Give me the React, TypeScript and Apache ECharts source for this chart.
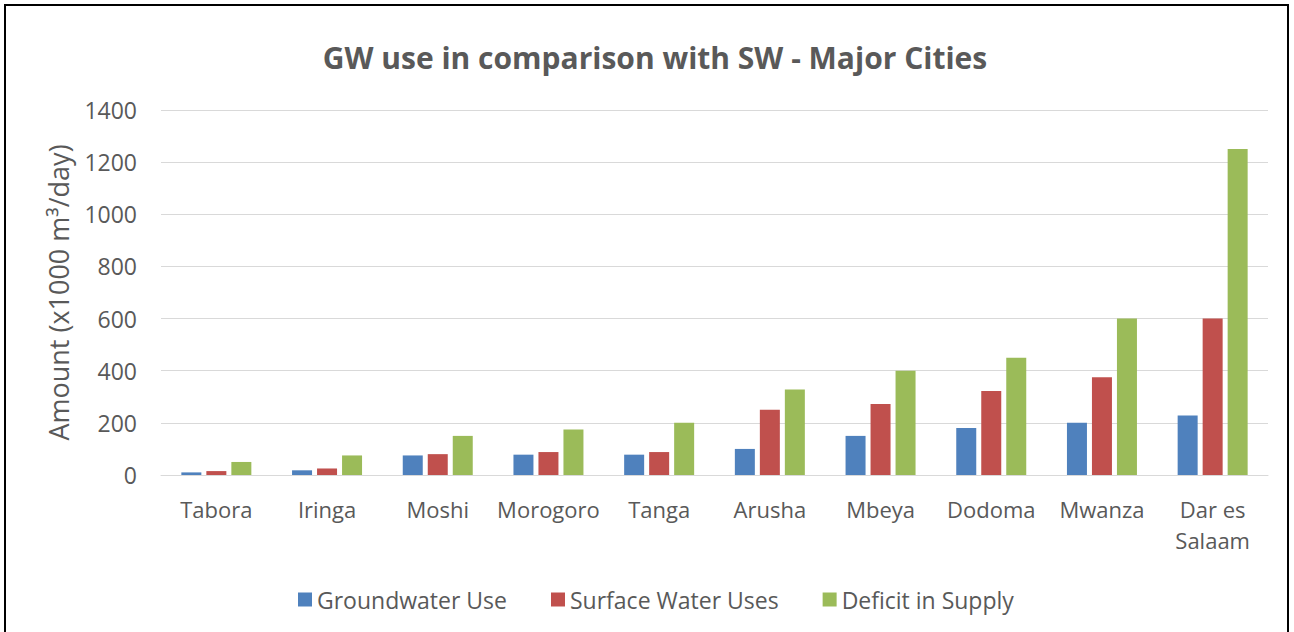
import React, { useEffect, useRef } from "react";
import * as echarts from "echarts";

const cities = ["Tabora", "Iringa", "Moshi", "Morogoro", "Tanga", "Arusha", "Mbeya", "Dodoma", "Mwanza", "Dar es\nSalaam"];
const groundwater = [10, 18, 75, 78, 78, 100, 150, 180, 200, 228];
const surfaceWater = [15, 25, 80, 88, 88, 250, 272, 322, 375, 600];
const deficit = [50, 75, 150, 175, 200, 328, 400, 450, 600, 1250];
const yTicks = [0, 200, 400, 600, 800, 1000, 1200, 1400];

const FONT = "Open Sans";
const GREY = "#595959";

export default function App() {
  const ref = useRef<HTMLDivElement>(null);
  useEffect(() => {
    if (!ref.current) return;
    const chart = echarts.init(ref.current, undefined, { renderer: "svg" });
    chart.setOption({
      animation: false,
      backgroundColor: "#ffffff",
      textStyle: { fontFamily: FONT },
      title: {
        text: "GW use in comparison with SW - Major Cities",
        left: 650,
        top: 37,
        textAlign: "center",
        textStyle: { fontFamily: FONT, fontSize: 30, fontWeight: "bold", color: GREY },
      },
      graphic: [
        {
          type: "rect",
          shape: { x: 5, y: 5, width: 1283, height: 640 },
          style: { fill: "none", stroke: "#000", lineWidth: 2 },
          silent: true,
        },
      ],
      legend: {
        top: 588,
        left: 298,
        padding: 0,
        itemWidth: 14,
        itemHeight: 14,
        itemGap: 44,
        icon: "rect",
        textStyle: { fontFamily: FONT, fontSize: 23, color: GREY },
        data: ["Groundwater Use", "Surface Water Uses", "Deficit in Supply"],
      },
      grid: { left: 161, right: 26, top: 110, bottom: 157, containLabel: false },
      xAxis: {
        type: "category",
        data: cities,
        axisLine: { lineStyle: { color: "#d9d9d9", width: 1 } },
        axisTick: { show: false },
        axisLabel: { interval: 0, hideOverlap: false, fontFamily: FONT, fontSize: 22, color: GREY, margin: 18, lineHeight: 31 },
      },
      yAxis: {
        type: "value",
        min: yTicks[0],
        max: yTicks[yTicks.length - 1],
        interval: 200,
        name: "Amount (x1000 m³/day)",
        nameLocation: "middle",
        nameGap: 89,
        nameTextStyle: { fontFamily: FONT, fontSize: 27, color: GREY },
        axisLine: { show: false },
        axisTick: { show: false },
        axisLabel: { fontFamily: FONT, fontSize: 23, color: GREY, margin: 24, formatter: (v: number) => String(v) },
        splitLine: { lineStyle: { color: "#d9d9d9", width: 1 } },
      },
      series: [
        { name: "Groundwater Use", type: "bar", data: groundwater, barWidth: 20, barGap: "25%", itemStyle: { color: "#4F81BD" } },
        { name: "Surface Water Uses", type: "bar", data: surfaceWater, barWidth: 20, barGap: "25%", itemStyle: { color: "#C0504D" } },
        { name: "Deficit in Supply", type: "bar", data: deficit, barWidth: 20, barGap: "25%", itemStyle: { color: "#9BBB59" } },
      ],
    });
    return () => chart.dispose();
  }, []);
  return (
    <div
      ref={ref}
      style={{ position: "absolute", left: 0, top: 0, width: 1294, height: 632 }}
    />
  );
}
